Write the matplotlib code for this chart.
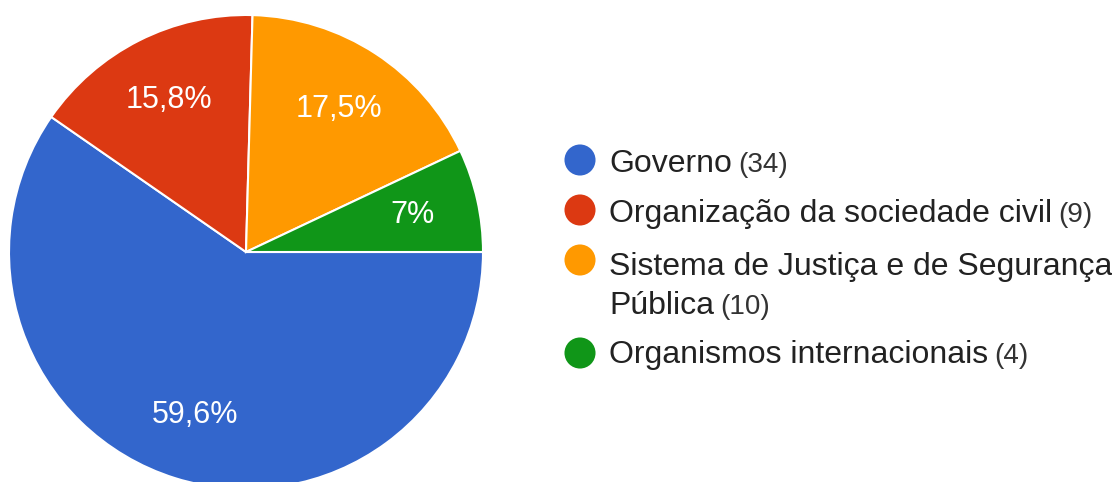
import matplotlib
matplotlib.use("Agg")
import matplotlib.pyplot as plt

categories = ["Governo", "Organização da sociedade civil",
              "Sistema de Justiça e de Segurança\nPública", "Organismos internacionais"]
counts = [34, 9, 10, 4]
colors = ["#3366cc", "#dc3912", "#ff9900", "#109618"]

W, H = 1112, 482
plt.rcParams["font.family"] = ["Liberation Sans", "DejaVu Sans"]
fig = plt.figure(figsize=(W / 100, H / 100), dpi=100)
fig.patch.set_facecolor("white")

cx, cy, r = 246, 252, 237
ax = fig.add_axes([(cx - r) / W, (H - cy - r) / H, 2 * r / W, 2 * r / H])


def fmt(p):
    v = round(p, 1)
    s = ("%.1f" % v).rstrip("0").rstrip(".")
    return s.replace(".", ",") + "%"


wedges, texts, autotexts = ax.pie(
    counts, colors=colors, startangle=0, counterclock=False,
    autopct=fmt, pctdistance=0.72, radius=1,
    wedgeprops=dict(edgecolor="white", linewidth=1.5),
    textprops=dict(color="white", fontsize=22))
ax.set_xlim(-1, 1)
ax.set_ylim(-1, 1)
ax.set_aspect("equal")
ax.axis("off")

# legend
lax = fig.add_axes([0, 0, 1, 1])
lax.set_xlim(0, W)
lax.set_ylim(H, 0)
lax.axis("off")
dot_y = [160, 210, 260, 353]
base_y = [172, 222, 275, 363]
line_gap = 39
fig.canvas.draw()
renderer = fig.canvas.get_renderer()
for name, cnt, col, dy, by in zip(categories, counts, colors, dot_y, base_y):
    lax.scatter([580], [dy], s=500, color=col, edgecolors="none")
    lines = name.split("\n")
    for i, ln in enumerate(lines):
        t = lax.text(609, by + i * line_gap, ln, fontsize=23, color="#222222",
                     va="baseline", ha="left")
    bb = t.get_window_extent(renderer=renderer)
    lax.text(bb.x1 + 6, by + (len(lines) - 1) * line_gap, "(%d)" % cnt,
             fontsize=20, color="#333333", va="baseline", ha="left")

fig.savefig("out.png", dpi=100, facecolor="white")
